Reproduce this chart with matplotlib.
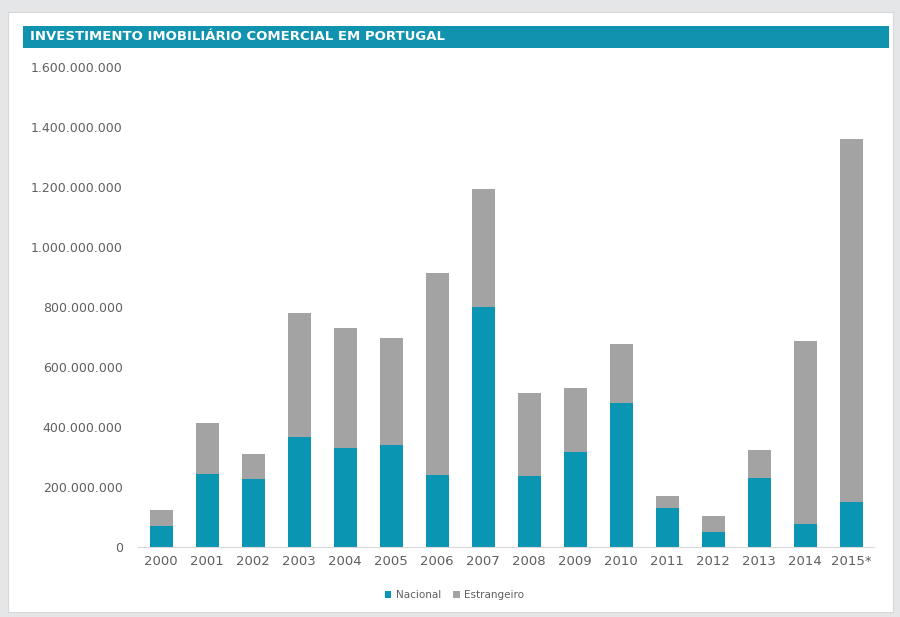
import matplotlib.pyplot as plt
import matplotlib.patches as mpatches
from matplotlib.ticker import FuncFormatter

# Data (values in euros)
anos = ['2000', '2001', '2002', '2003', '2004', '2005', '2006', '2007',
        '2008', '2009', '2010', '2011', '2012', '2013', '2014', '2015*']
nacional = [70e6, 243e6, 227e6, 367e6, 330e6, 340e6, 240e6, 800e6,
            237e6, 317e6, 480e6, 130e6, 50e6, 230e6, 77e6, 150e6]
total = [123e6, 413e6, 310e6, 780e6, 730e6, 697e6, 913e6, 1193e6,
         513e6, 530e6, 677e6, 170e6, 103e6, 323e6, 687e6, 1360e6]
estrangeiro = [t - n for t, n in zip(total, nacional)]

teal = '#0a96b3'
cinza = '#a3a3a3'
txt = '#5f5f5f'

fig = plt.figure(figsize=(9, 6.17), dpi=100)
fig.patch.set_facecolor('#e5e6e8')

# white panel
fig.patches.append(mpatches.Rectangle((8 / 900, 5 / 617), 885 / 900, 600 / 617,
                                      transform=fig.transFigure, facecolor='white',
                                      edgecolor='#d8d8d8', lw=0.8, zorder=-2))
# title bar
fig.patches.append(mpatches.Rectangle((23 / 900, 1 - 48 / 617), 866 / 900, 22 / 617,
                                      transform=fig.transFigure, facecolor='#0f93ae',
                                      edgecolor='none', zorder=-1))
fig.text(30 / 900, 1 - 37 / 617, 'INVESTIMENTO IMOBILIÁRIO COMERCIAL EM PORTUGAL',
         color='white', fontsize=9.5, fontweight='bold', va='center', ha='left')

ax = fig.add_axes([138 / 900, 1 - 547 / 617, 736 / 900, 480 / 617])
ax.set_facecolor('none')
x = range(len(anos))
ax.bar(x, nacional, width=0.5, color=teal, label='Nacional', zorder=2)
ax.bar(x, estrangeiro, width=0.5, bottom=nacional, color=cinza,
       label='Estrangeiro', zorder=2)

ax.set_xlim(-0.5, len(anos) - 0.5)
ax.set_ylim(0, 1.6e9)
ax.set_yticks([i * 2e8 for i in range(9)])
ax.yaxis.set_major_formatter(FuncFormatter(lambda v, p: f'{int(v):,}'.replace(',', '.')))
ax.set_xticks(list(x))
ax.set_xticklabels(anos)

for s in ['top', 'right', 'left']:
    ax.spines[s].set_visible(False)
ax.spines['bottom'].set_color('#d9d9d9')
ax.tick_params(axis='both', length=0, colors=txt)
ax.tick_params(axis='y', pad=11, labelsize=9)
ax.tick_params(axis='x', pad=6, labelsize=9.5)

ax.legend(loc='upper center', bbox_to_anchor=(0.43, -0.07), ncol=2, frameon=False,
          fontsize=7.5, handlelength=0.6, handleheight=0.6, handletextpad=0.4,
          columnspacing=1.2, labelcolor=txt)

fig.savefig('out.png', dpi=100, facecolor=fig.get_facecolor())
